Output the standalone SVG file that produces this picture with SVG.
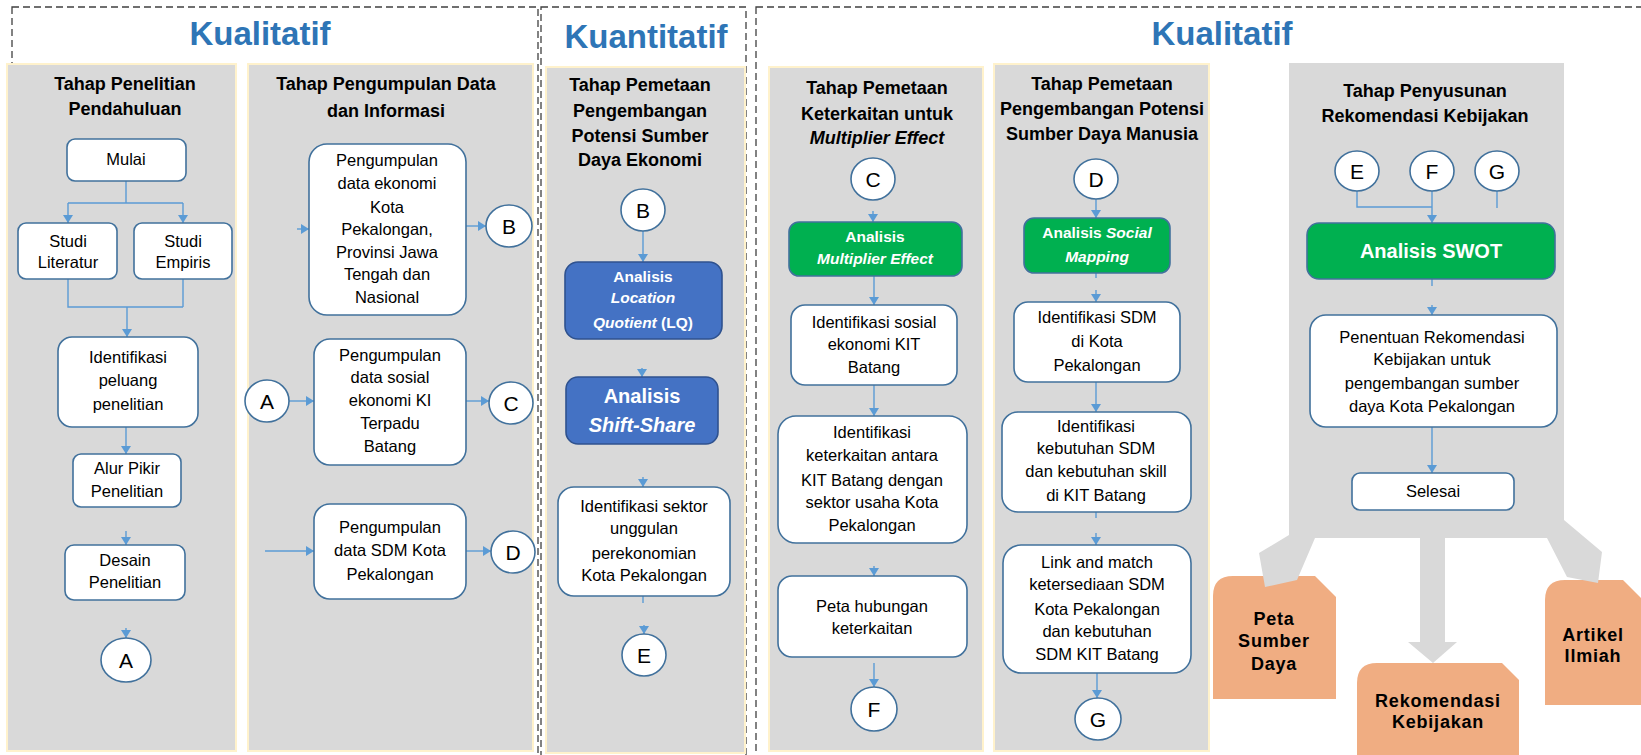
<svg xmlns="http://www.w3.org/2000/svg" width="1641" height="755" viewBox="0 0 1641 755">
<style>
.bg{fill:#ffffff}
.dash{fill:none;stroke:#404040;stroke-width:1.3;stroke-dasharray:7 4}
.panel{fill:#D9D9D9;stroke:#FFF2CC;stroke-width:2}
.title{font-family:"Liberation Sans",Arial,sans-serif;font-size:33px;font-weight:bold;fill:#2E75B6;text-anchor:middle}
.head{font-family:"Liberation Sans",Arial,sans-serif;font-size:18px;font-weight:bold;fill:#000;text-anchor:middle}
.box{fill:#ffffff;stroke:#41719C;stroke-width:1.6}
.blue{fill:#4472C4;stroke:#2F528F;stroke-width:1.6}
.green{fill:#00B050;stroke:#41719C;stroke-width:1.6}
.txt{font-family:"Liberation Sans",Arial,sans-serif;font-size:16.5px;fill:#000;text-anchor:middle}
.wt{font-family:"Liberation Sans",Arial,sans-serif;font-size:15.5px;font-weight:bold;fill:#fff;text-anchor:middle}
.wt20{font-family:"Liberation Sans",Arial,sans-serif;font-size:20px;font-weight:bold;fill:#fff;text-anchor:middle}
.circ{fill:#ffffff;stroke:#41719C;stroke-width:1.6}
.ltr{font-family:"Liberation Sans",Arial,sans-serif;font-size:21px;fill:#000;text-anchor:middle}
.conn{fill:none;stroke:#5B9BD5;stroke-width:1.4}
.arr{marker-end:url(#ah)}
.out{fill:#F0AD82}
.otxt{font-family:"Liberation Sans",Arial,sans-serif;font-size:18px;font-weight:bold;fill:#000;text-anchor:middle;letter-spacing:0.8px}
.gray{fill:#D9D9D9}
</style>
<defs>
<marker id="ah" markerWidth="8" markerHeight="10" refX="8" refY="5" orient="auto" markerUnits="userSpaceOnUse">
<path d="M0,0 L8,5 L0,10 Z" fill="#5B9BD5"/>
</marker>
</defs>
<rect class="bg" x="0" y="0" width="1641" height="755"/>

<g id="frames">
<rect class="dash" x="12" y="7" width="526" height="770"/>
<rect class="dash" x="541" y="7" width="205" height="770"/>
<rect class="dash" x="756" y="7" width="900" height="770"/>
<text class="title" x="260" y="45">Kualitatif</text>
<text class="title" x="646" y="48">Kuantitatif</text>
<text class="title" x="1222" y="45">Kualitatif</text>
</g>

<g id="panels">
<rect class="panel" x="7" y="64" width="229" height="687"/>
<rect class="panel" x="248" y="64" width="285" height="687"/>
<rect class="panel" x="546" y="67" width="199" height="686"/>
<rect class="panel" x="769" y="67" width="214" height="684"/>
<rect class="panel" x="994" y="64" width="215" height="687"/>
</g>

<g id="outputs">
<path class="out" d="M1213,699 L1213,596 Q1213,576 1233,576 L1315,576 L1336,597 L1336,699 Z"/>
<path class="out" d="M1357,760 L1357,683 Q1357,663 1377,663 L1502,663 L1519,680 L1519,760 Z"/>
<path class="out" d="M1545,705 L1545,600 Q1545,580 1565,580 L1623,580 L1645,602 L1645,705 Z"/>
</g>

<g id="stage6-bg">
<path class="gray" d="M1289,63 L1564,63 L1564,520 L1602,552 L1598,583 L1567,577 L1547,538 L1445,538 L1445,642 L1457,642 L1433,663 L1408,642 L1420,642 L1420,538 L1315,538 L1297,580 L1265,587 L1259,553 L1289,535 Z"/>
</g>

<g id="headings">
<text class="head" x="125" y="90">Tahap Penelitian</text>
<text class="head" x="125" y="115">Pendahuluan</text>
<text class="head" x="386" y="90">Tahap Pengumpulan Data</text>
<text class="head" x="386" y="117">dan Informasi</text>
<text class="head" x="640" y="91">Tahap Pemetaan</text>
<text class="head" x="640" y="117">Pengembangan</text>
<text class="head" x="640" y="142">Potensi Sumber</text>
<text class="head" x="640" y="166">Daya Ekonomi</text>
<text class="head" x="877" y="94">Tahap Pemetaan</text>
<text class="head" x="877" y="120">Keterkaitan untuk</text>
<text class="head" x="877" y="144" font-style="italic">Multiplier Effect</text>
<text class="head" x="1102" y="90">Tahap Pemetaan</text>
<text class="head" x="1102" y="115">Pengembangan Potensi</text>
<text class="head" x="1102" y="140">Sumber Daya Manusia</text>
<text class="head" x="1425" y="97">Tahap Penyusunan</text>
<text class="head" x="1425" y="122">Rekomendasi Kebijakan</text>
</g>

<g id="connectors">
<path class="conn" d="M126,181 V203 M68,203 H183"/>
<path class="conn arr" d="M68,203 V223"/>
<path class="conn arr" d="M183,203 V223"/>
<path class="conn" d="M68,279 V307 H183 M183,279 V307"/>
<path class="conn arr" d="M127,307 V337"/>
<path class="conn arr" d="M126,427 V454"/>
<path class="conn arr" d="M126,531 V545"/>
<path class="conn arr" d="M126,628 V638"/>
<path class="conn arr" d="M297,229 H309"/>
<path class="conn arr" d="M466,226 H486"/>
<path class="conn arr" d="M289,401 H314"/>
<path class="conn arr" d="M466,401 H489"/>
<path class="conn arr" d="M265,551 H314"/>
<path class="conn arr" d="M466,551 H491"/>
<path class="conn arr" d="M643,231 V262"/>
<path class="conn arr" d="M642,368 V377"/>
<path class="conn arr" d="M643,477 V487"/>
<path class="conn" d="M643,596 V603"/>
<path class="conn arr" d="M644,625 V634"/>
<path class="conn arr" d="M873,211 V222"/>
<path class="conn arr" d="M874,276 V305"/>
<path class="conn arr" d="M874,385 V416"/>
<path class="conn arr" d="M874,566 V576"/>
<path class="conn arr" d="M874,663 V687"/>
<path class="conn arr" d="M1096,199 V218"/>
<path class="conn" d="M1096,273 V278"/>
<path class="conn arr" d="M1096,290 V302"/>
<path class="conn arr" d="M1096,382 V412"/>
<path class="conn" d="M1096,512 V518"/>
<path class="conn arr" d="M1096,533 V545"/>
<path class="conn arr" d="M1097,673 V698"/>
<path class="conn" d="M1357,191 V207 H1432"/>
<path class="conn arr" d="M1432,191 V223"/>
<path class="conn" d="M1497,191 V208"/>
<path class="conn" d="M1432,279 V286"/>
<path class="conn arr" d="M1432,305 V315"/>
<path class="conn arr" d="M1432,427 V473"/>
</g>

<g id="n-mulai"><rect class="box" x="67" y="139" width="119" height="42" rx="8"/><text class="txt" x="126" y="165">Mulai</text></g>
<g id="n-literatur"><rect class="box" x="18" y="223" width="99" height="56" rx="8"/><text class="txt" x="68" y="247">Studi</text><text class="txt" x="68" y="268">Literatur</text></g>
<g id="n-empiris"><rect class="box" x="134" y="223" width="98" height="56" rx="8"/><text class="txt" x="183" y="247">Studi</text><text class="txt" x="183" y="268">Empiris</text></g>
<g id="n-peluang"><rect class="box" x="58" y="337" width="140" height="90" rx="14"/><text class="txt" x="128" y="363">Identifikasi</text><text class="txt" x="128" y="386">peluang</text><text class="txt" x="128" y="410">penelitian</text></g>
<g id="n-alur"><rect class="box" x="73" y="454" width="108" height="53" rx="8"/><text class="txt" x="127" y="474">Alur Pikir</text><text class="txt" x="127" y="497">Penelitian</text></g>
<g id="n-desain"><rect class="box" x="65" y="545" width="120" height="55" rx="9"/><text class="txt" x="125" y="566">Desain</text><text class="txt" x="125" y="588">Penelitian</text></g>
<g id="c-a1"><ellipse class="circ" cx="126" cy="660" rx="25" ry="22"/><text class="ltr" x="126" y="668">A</text></g>

<g id="n-data-ekonomi"><rect class="box" x="309" y="144" width="157" height="171" rx="18"/>
<text class="txt" x="387" y="166">Pengumpulan</text><text class="txt" x="387" y="189">data ekonomi</text><text class="txt" x="387" y="213">Kota</text><text class="txt" x="387" y="235">Pekalongan,</text><text class="txt" x="387" y="258">Provinsi Jawa</text><text class="txt" x="387" y="280">Tengah dan</text><text class="txt" x="387" y="303">Nasional</text></g>
<g id="c-b1"><ellipse class="circ" cx="509" cy="226" rx="23" ry="21"/><text class="ltr" x="509" y="234">B</text></g>
<g id="n-data-sosial"><rect class="box" x="314" y="339" width="152" height="126" rx="16"/>
<text class="txt" x="390" y="361">Pengumpulan</text><text class="txt" x="390" y="383">data sosial</text><text class="txt" x="390" y="406">ekonomi KI</text><text class="txt" x="390" y="429">Terpadu</text><text class="txt" x="390" y="452">Batang</text></g>
<g id="c-a2"><ellipse class="circ" cx="267" cy="401" rx="22" ry="21"/><text class="ltr" x="267" y="409">A</text></g>
<g id="c-c1"><ellipse class="circ" cx="511" cy="403" rx="22" ry="21"/><text class="ltr" x="511" y="411">C</text></g>
<g id="n-data-sdm"><rect class="box" x="314" y="504" width="152" height="95" rx="16"/>
<text class="txt" x="390" y="533">Pengumpulan</text><text class="txt" x="390" y="556">data SDM Kota</text><text class="txt" x="390" y="580">Pekalongan</text></g>
<g id="c-d1"><ellipse class="circ" cx="513" cy="552" rx="22" ry="21"/><text class="ltr" x="513" y="560">D</text></g>

<g id="c-b2"><ellipse class="circ" cx="643" cy="210" rx="22" ry="21"/><text class="ltr" x="643" y="218">B</text></g>
<g id="n-lq"><rect class="blue" x="565" y="262" width="157" height="77" rx="13"/>
<text class="wt" x="643" y="282">Analisis</text><text class="wt" x="643" y="303" font-style="italic">Location</text><text class="wt" x="643" y="328"><tspan font-style="italic">Quotient</tspan> (LQ)</text></g>
<g id="n-ss"><rect class="blue" x="566" y="377" width="152" height="67" rx="12"/>
<text class="wt20" x="642" y="403">Analisis</text><text class="wt20" x="642" y="432" font-style="italic">Shift-Share</text></g>
<g id="n-sektor"><rect class="box" x="558" y="487" width="172" height="109" rx="16"/>
<text class="txt" x="644" y="512">Identifikasi sektor</text><text class="txt" x="644" y="534">unggulan</text><text class="txt" x="644" y="559">perekonomian</text><text class="txt" x="644" y="581">Kota Pekalongan</text></g>
<g id="c-e1"><ellipse class="circ" cx="644" cy="655" rx="22" ry="21"/><text class="ltr" x="644" y="663">E</text></g>

<g id="c-c2"><ellipse class="circ" cx="873" cy="179" rx="22" ry="21"/><text class="ltr" x="873" y="187">C</text></g>
<g id="n-multiplier"><rect class="green" x="789" y="222" width="173" height="54" rx="10"/>
<text class="wt" x="875" y="242">Analisis</text><text class="wt" x="875" y="264" font-style="italic">Multiplier Effect</text></g>
<g id="n-sosial-kit"><rect class="box" x="791" y="305" width="166" height="80" rx="14"/>
<text class="txt" x="874" y="328">Identifikasi sosial</text><text class="txt" x="874" y="350">ekonomi KIT</text><text class="txt" x="874" y="373">Batang</text></g>
<g id="n-keterkaitan"><rect class="box" x="778" y="416" width="189" height="127" rx="18"/>
<text class="txt" x="872" y="438">Identifikasi</text><text class="txt" x="872" y="461">keterkaitan antara</text><text class="txt" x="872" y="486">KIT Batang dengan</text><text class="txt" x="872" y="508">sektor usaha Kota</text><text class="txt" x="872" y="531">Pekalongan</text></g>
<g id="n-peta-hub"><rect class="box" x="778" y="576" width="189" height="81" rx="14"/>
<text class="txt" x="872" y="612">Peta hubungan</text><text class="txt" x="872" y="634">keterkaitan</text></g>
<g id="c-f1"><ellipse class="circ" cx="874" cy="709" rx="23" ry="22"/><text class="ltr" x="874" y="717">F</text></g>

<g id="c-d2"><ellipse class="circ" cx="1096" cy="179" rx="22" ry="20"/><text class="ltr" x="1096" y="187">D</text></g>
<g id="n-social"><rect class="green" x="1024" y="218" width="146" height="55" rx="10"/>
<text class="wt" x="1097" y="238">Analisis <tspan font-style="italic">Social</tspan></text><text class="wt" x="1097" y="262" font-style="italic">Mapping</text></g>
<g id="n-sdm"><rect class="box" x="1014" y="302" width="166" height="80" rx="14"/>
<text class="txt" x="1097" y="323">Identifikasi SDM</text><text class="txt" x="1097" y="347">di Kota</text><text class="txt" x="1097" y="371">Pekalongan</text></g>
<g id="n-kebutuhan"><rect class="box" x="1002" y="412" width="189" height="100" rx="16"/>
<text class="txt" x="1096" y="432">Identifikasi</text><text class="txt" x="1096" y="454">kebutuhan SDM</text><text class="txt" x="1096" y="477">dan kebutuhan skill</text><text class="txt" x="1096" y="501">di KIT Batang</text></g>
<g id="n-link"><rect class="box" x="1003" y="545" width="188" height="128" rx="18"/>
<text class="txt" x="1097" y="568">Link and match</text><text class="txt" x="1097" y="590">ketersediaan SDM</text><text class="txt" x="1097" y="615">Kota Pekalongan</text><text class="txt" x="1097" y="637">dan kebutuhan</text><text class="txt" x="1097" y="660">SDM KIT Batang</text></g>
<g id="c-g1"><ellipse class="circ" cx="1098" cy="719" rx="23" ry="21"/><text class="ltr" x="1098" y="727">G</text></g>

<g id="c-e2"><ellipse class="circ" cx="1357" cy="171" rx="22" ry="20"/><text class="ltr" x="1357" y="179">E</text></g>
<g id="c-f2"><ellipse class="circ" cx="1432" cy="171" rx="22" ry="20"/><text class="ltr" x="1432" y="179">F</text></g>
<g id="c-g2"><ellipse class="circ" cx="1497" cy="171" rx="22" ry="20"/><text class="ltr" x="1497" y="179">G</text></g>
<g id="n-swot"><rect class="green" x="1307" y="223" width="248" height="56" rx="12"/>
<text class="wt20" x="1431" y="258">Analisis SWOT</text></g>
<g id="n-penentuan"><rect class="box" x="1310" y="315" width="247" height="112" rx="16"/>
<text class="txt" x="1432" y="343">Penentuan Rekomendasi</text><text class="txt" x="1432" y="365">Kebijakan untuk</text><text class="txt" x="1432" y="389">pengembangan sumber</text><text class="txt" x="1432" y="412">daya Kota Pekalongan</text></g>
<g id="n-selesai"><rect class="box" x="1352" y="473" width="162" height="37" rx="8"/>
<text class="txt" x="1433" y="497">Selesai</text></g>

<g id="out-peta"><text class="otxt" x="1274" y="625">Peta</text><text class="otxt" x="1274" y="647">Sumber</text><text class="otxt" x="1274" y="670">Daya</text></g>
<g id="out-rekom"><text class="otxt" x="1438" y="707">Rekomendasi</text><text class="otxt" x="1438" y="728">Kebijakan</text></g>
<g id="out-artikel"><text class="otxt" x="1593" y="641">Artikel</text><text class="otxt" x="1593" y="662">Ilmiah</text></g>
</svg>
